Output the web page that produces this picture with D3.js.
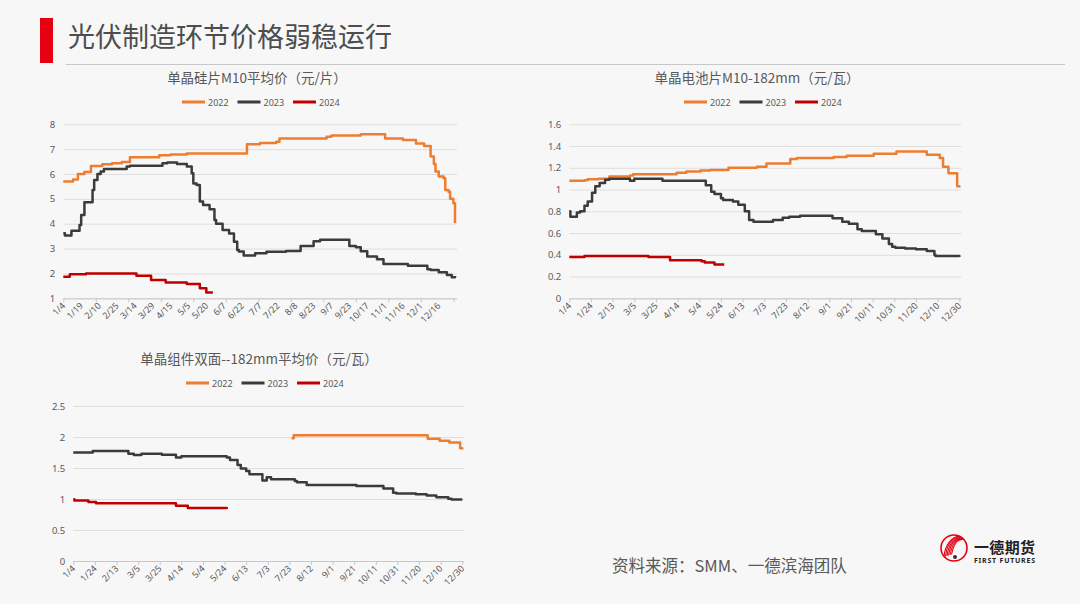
<!DOCTYPE html>
<html>
<head>
<meta charset="utf-8">
<script src="https://cdn.jsdelivr.net/npm/d3@7"></script>
<style>
  body { margin: 0; background: #f7f7f7; }
  text { font-family: "Noto Sans CJK SC", "Noto Sans", sans-serif; }
</style>
</head>
<body>
<div class="canvas"></div>
<script>
// ---- data ----
const years = ['2022', '2023', '2024'];
const colours = ['#ed7d31', '#3b3b3b', '#c00000'];

// wafer chart: x is trading-day index, labels every 11 days
const waferLabels = ['1/4', '1/19', '2/10', '2/25', '3/14', '3/29', '4/15', '5/5', '5/20', '6/7', '6/22',
  '7/7', '7/22', '8/8', '8/23', '9/7', '9/23', '10/17', '11/1', '11/16', '12/1', '12/16'];
const waferTicks = [1, 2, 3, 4, 5, 6, 7, 8];
const wafer2022 = [[0, 5.70], [6, 5.78], [9, 6.0], [13, 6.08], [17, 6.32], [24, 6.39], [30, 6.43], [36, 6.48],
  [41, 6.67], [59, 6.75], [66, 6.79], [76, 6.83], [113, 7.2], [121, 7.25], [131, 7.3], [133, 7.43], [162, 7.5],
  [165, 7.55], [183, 7.6], [198, 7.43], [209, 7.37], [217, 7.23], [222, 7.13], [226, 6.7], [228, 6.4], [229, 6.1],
  [231, 5.9], [234, 5.83], [235, 5.36], [237, 5.29], [238, 5.0], [240, 4.82], [241, 4.02]];
const wafer2023 = [[0, 3.62], [1, 3.53], [5, 3.72], [10, 3.95], [11, 4.35], [13, 4.86], [18, 5.36], [19, 5.76],
  [21, 6.0], [23, 6.1], [25, 6.2], [39, 6.3], [41, 6.33], [61, 6.43], [64, 6.46], [70, 6.4], [76, 6.3], [79, 6.03],
  [80, 5.62], [82, 5.56], [84, 4.89], [86, 4.75], [90, 4.58], [93, 4.15], [94, 4.0], [98, 3.75], [102, 3.61],
  [105, 3.28], [107, 2.94], [108, 2.88], [111, 2.72], [118, 2.81], [125, 2.87], [137, 2.9], [146, 3.1], [154, 3.3],
  [158, 3.36], [176, 3.1], [180, 3.05], [183, 2.89], [187, 2.68], [193, 2.57], [197, 2.38], [212, 2.31],
  [224, 2.17], [226, 2.14], [231, 2.05], [236, 1.94], [239, 1.85], [241, 1.9]];
const wafer2024 = [[0, 1.87], [4, 1.97], [14, 2.0], [45, 1.91], [54, 1.74], [63, 1.64], [76, 1.58], [84, 1.4],
  [88, 1.23], [92, 1.23]];

// cell and module charts: date axis, labels every 20 days
const dateLabels = ['1/4', '1/24', '2/13', '3/5', '3/25', '4/14', '5/4', '5/24', '6/13', '7/3', '7/23',
  '8/12', '9/1', '9/21', '10/11', '10/31', '11/20', '12/10', '12/30'];
const cellTicks = [0, 0.2, 0.4, 0.6, 0.8, 1, 1.2, 1.4, 1.6];
const cell2022 = [['1/4', 1.08], ['1/18', 1.085], ['1/21', 1.095], ['1/31', 1.10], ['2/10', 1.12], ['3/1', 1.13],
  ['3/4', 1.14], ['4/13', 1.155], ['4/22', 1.165], ['5/5', 1.175], ['5/14', 1.18], ['5/31', 1.20], ['6/26', 1.21],
  ['7/5', 1.24], ['7/27', 1.28], ['8/2', 1.29], ['9/5', 1.30], ['9/17', 1.31], ['10/12', 1.33], ['11/2', 1.35],
  ['11/30', 1.32], ['12/12', 1.29], ['12/15', 1.21], ['12/20', 1.15], ['12/28', 1.03], ['12/30', 1.02]];
const cell2023 = [['1/4', 0.80], ['1/5', 0.75], ['1/11', 0.79], ['1/14', 0.80], ['1/18', 0.85], ['1/21', 0.89],
  ['1/25', 0.97], ['1/28', 1.03], ['2/1', 1.06], ['2/6', 1.09], ['2/10', 1.10], ['3/1', 1.08], ['3/5', 1.10],
  ['3/31', 1.08], ['5/10', 1.04], ['5/15', 0.98], ['5/18', 0.96], ['5/24', 0.92], ['5/26', 0.905], ['6/4', 0.89],
  ['6/9', 0.86], ['6/15', 0.80], ['6/19', 0.72], ['6/23', 0.705], ['7/11', 0.72], ['7/20', 0.74], ['7/26', 0.75],
  ['8/5', 0.76], ['9/4', 0.735], ['9/13', 0.705], ['9/19', 0.685], ['9/27', 0.635], ['10/1', 0.62], ['10/14', 0.59],
  ['10/20', 0.55], ['10/26', 0.50], ['10/29', 0.475], ['11/1', 0.465], ['11/10', 0.457], ['11/20', 0.45],
  ['11/30', 0.435], ['12/7', 0.40], ['12/8', 0.39], ['12/30', 0.38]];
const cell2024 = [['1/4', 0.38], ['1/18', 0.39], ['3/18', 0.38], ['4/7', 0.35], ['5/6', 0.34], ['5/9', 0.33],
  ['5/18', 0.31], ['5/27', 0.31]];

const moduleTicks = [0, 0.5, 1, 1.5, 2, 2.5];
const module2022 = [['7/25', 1.98], ['7/27', 2.03], ['11/28', 1.97], ['12/9', 1.94], ['12/18', 1.91],
  ['12/28', 1.82], ['12/30', 1.80]];
const module2023 = [['1/4', 1.75], ['1/22', 1.775], ['2/24', 1.73], ['3/1', 1.71], ['3/8', 1.73], ['3/27', 1.715],
  ['4/9', 1.67], ['4/14', 1.69], ['5/26', 1.67], ['5/29', 1.63], ['6/5', 1.55], ['6/8', 1.49], ['6/13', 1.45],
  ['6/16', 1.40], ['6/28', 1.30], ['7/2', 1.35], ['7/6', 1.32], ['7/28', 1.29], ['7/30', 1.27], ['8/8', 1.225],
  ['9/23', 1.21], ['10/18', 1.17], ['10/27', 1.10], ['10/30', 1.09], ['11/17', 1.075], ['11/27', 1.055],
  ['12/6', 1.03], ['12/17', 1.005], ['12/20', 0.99], ['12/30', 0.99]];
const module2024 = [['1/4', 0.995], ['1/5', 0.975], ['1/18', 0.95], ['1/25', 0.93], ['4/9', 0.89], ['4/20', 0.855],
  ['5/26', 0.84]];

// ---- page ----
const svg = d3.select('.canvas')
    .append('svg')
    .attr('width', 1080)
    .attr('height', 604);

svg.append('rect').attr('width', 1080).attr('height', 604).attr('fill', '#f7f7f7');

// header
svg.append('rect').attr('x', 40).attr('y', 18).attr('width', 13).attr('height', 45).attr('fill', '#e60012');
svg.append('text')
    .attr('x', 68).attr('y', 35)
    .attr('dominant-baseline', 'central')
    .attr('font-size', 27)
    .attr('fill', '#4d4d4d')
    .text('光伏制造环节价格弱稳运行');
svg.append('line')
    .attr('x1', 66).attr('x2', 1065).attr('y1', 64.5).attr('y2', 64.5)
    .attr('stroke', '#c8c8c8');

const parseMD = s => {
    const [m, d] = s.split('/').map(Number);
    return new Date(2022, m - 1, d);
};

function drawChart(cfg) {
    const g = svg.append('g');
    const y = d3.scaleLinear().domain(cfg.yDomain).range([cfg.bottom, cfg.top]);
    const x = cfg.x;
    const w = cfg.right - cfg.left;

    // grid + y labels
    const yAxis = g.append('g')
        .attr('transform', `translate(${cfg.left}, 0)`)
        .call(d3.axisLeft(y).tickValues(cfg.yTicks).tickSize(-(w + 2)).tickPadding(8)
            .tickFormat(d => String(+d.toFixed(1))));
    yAxis.select('.domain').remove();
    yAxis.selectAll('line').attr('stroke', '#dedede');
    yAxis.selectAll('text').attr('fill', '#595959').attr('font-size', 9.5)
        .style('font-family', '"Noto Sans", sans-serif');

    // x axis line + tick marks
    const xMarks = g.append('g')
        .attr('transform', `translate(0, ${cfg.bottom})`)
        .call(d3.axisBottom(x).tickValues(cfg.markValues).tickSize(4).tickFormat(''));
    xMarks.select('.domain').attr('stroke', '#c8c8c8').attr('d', `M${cfg.left},0.5H${cfg.right + 2}`);
    xMarks.selectAll('line').attr('stroke', '#c8c8c8');

    // x labels
    const xLabels = g.append('g')
        .attr('transform', `translate(0, ${cfg.bottom})`)
        .call(d3.axisBottom(x).tickValues(cfg.labelValues).tickSize(0)
            .tickFormat((d, i) => cfg.labels[i]));
    xLabels.select('.domain').remove();
    xLabels.selectAll('text')
        .attr('fill', '#595959')
        .attr('font-size', 9)
        .style('font-family', '"Noto Sans", sans-serif')
        .attr('text-anchor', 'end')
        .attr('dy', null)
        .attr('y', 0)
        .attr('transform', 'translate(2, 8) rotate(-45)');

    // series
    const line = d3.line()
        .x(d => x(cfg.xValue(d[0])))
        .y(d => y(d[1]))
        .curve(d3.curveStepAfter);

    cfg.series.forEach((s, i) => {
        g.append('path')
            .datum(s)
            .attr('fill', 'none')
            .attr('stroke', colours[i])
            .attr('stroke-width', 2.5)
            .attr('stroke-linejoin', 'round')
            .attr('d', line);
    });

    // title
    g.append('text')
        .attr('x', cfg.titleX).attr('y', cfg.titleY)
        .attr('text-anchor', 'middle')
        .attr('dominant-baseline', 'central')
        .attr('font-size', 13.5)
        .attr('fill', '#595959')
        .text(cfg.title);

    // legend
    const legend = g.selectAll('.legend')
        .data(years)
        .enter()
        .append('g')
        .attr('transform', (d, i) => `translate(${cfg.legendX + i * 55.5}, ${cfg.legendY})`);
    legend.append('line')
        .attr('x1', 0).attr('x2', 23)
        .attr('stroke', (d, i) => colours[i])
        .attr('stroke-width', 3);
    legend.append('text')
        .attr('x', 26)
        .attr('dominant-baseline', 'central')
        .attr('font-size', 9)
        .attr('fill', '#595959')
        .style('font-family', '"Noto Sans", sans-serif')
        .text(d => d);
}

// chart 1: wafer
drawChart({
    left: 63.3, right: 455, top: 124.3, bottom: 298.3,
    yDomain: [1, 8], yTicks: waferTicks,
    x: d3.scaleLinear().domain([0, 241]).range([63.3, 455]),
    xValue: d => d,
    labels: waferLabels,
    labelValues: waferLabels.map((l, i) => i * 11),
    markValues: d3.range(0, 242, 20),
    series: [wafer2022, wafer2023, wafer2024],
    title: '单晶硅片M10平均价（元/片）', titleX: 257, titleY: 76.5,
    legendX: 182, legendY: 102
});

// chart 2: cell
const dateX = (l, r) => d3.scaleTime().domain([parseMD('1/4'), parseMD('12/30')]).range([l, r]);
drawChart({
    left: 569.3, right: 959.3, top: 124.3, bottom: 298.3,
    yDomain: [0, 1.6], yTicks: cellTicks,
    x: dateX(569.3, 959.3),
    xValue: parseMD,
    labels: dateLabels,
    labelValues: dateLabels.map(parseMD),
    markValues: dateLabels.map(parseMD),
    series: [cell2022, cell2023, cell2024],
    title: '单晶电池片M10-182mm（元/瓦）', titleX: 757, titleY: 76.5,
    legendX: 684, legendY: 102
});

// chart 3: module
drawChart({
    left: 73.3, right: 462.3, top: 406, bottom: 561,
    yDomain: [0, 2.5], yTicks: moduleTicks,
    x: dateX(73.3, 462.3),
    xValue: parseMD,
    labels: dateLabels,
    labelValues: dateLabels.map(parseMD),
    markValues: dateLabels.map(parseMD),
    series: [module2022, module2023, module2024],
    title: '单晶组件双面--182mm平均价（元/瓦）', titleX: 259, titleY: 357.5,
    legendX: 186, legendY: 383
});

// source
svg.append('text')
    .attr('x', 612).attr('y', 565)
    .attr('dominant-baseline', 'central')
    .attr('font-size', 16.5)
    .attr('fill', '#595959')
    .text('资料来源：SMM、一德滨海团队');

// logo
const logo = svg.append('g').attr('transform', 'translate(954, 548)');
logo.append('circle').attr('r', 13).attr('fill', 'none').attr('stroke', '#e60012').attr('stroke-width', 1.6);
[0, 1, 2, 3, 4, 5].forEach(i => {
    logo.append('path')
        .attr('d', `M${-10 + i * 1.5},${9 - i * 0.5} C${-9 + i * 2},${-4 - i} ${-2 + i * 1.5},${-11 + i * 0.5} ${5 + i},${-12 + i * 0.6}`)
        .attr('fill', 'none')
        .attr('stroke', '#e60012')
        .attr('stroke-width', 1.1);
});
logo.append('circle').attr('cx', 1).attr('cy', 9).attr('r', 2).attr('fill', '#333');
svg.append('text')
    .attr('x', 974).attr('y', 553)
    .attr('font-size', 15).attr('font-weight', 'bold')
    .attr('textLength', 61)
    .attr('fill', '#222')
    .text('一德期货');
svg.append('text')
    .attr('x', 974).attr('y', 563)
    .attr('font-size', 7).attr('font-weight', 'bold')
    .attr('textLength', 61)
    .attr('fill', '#222')
    .style('font-family', '"Noto Sans", sans-serif')
    .text('FIRST FUTURES');
</script>
</body>
</html>
